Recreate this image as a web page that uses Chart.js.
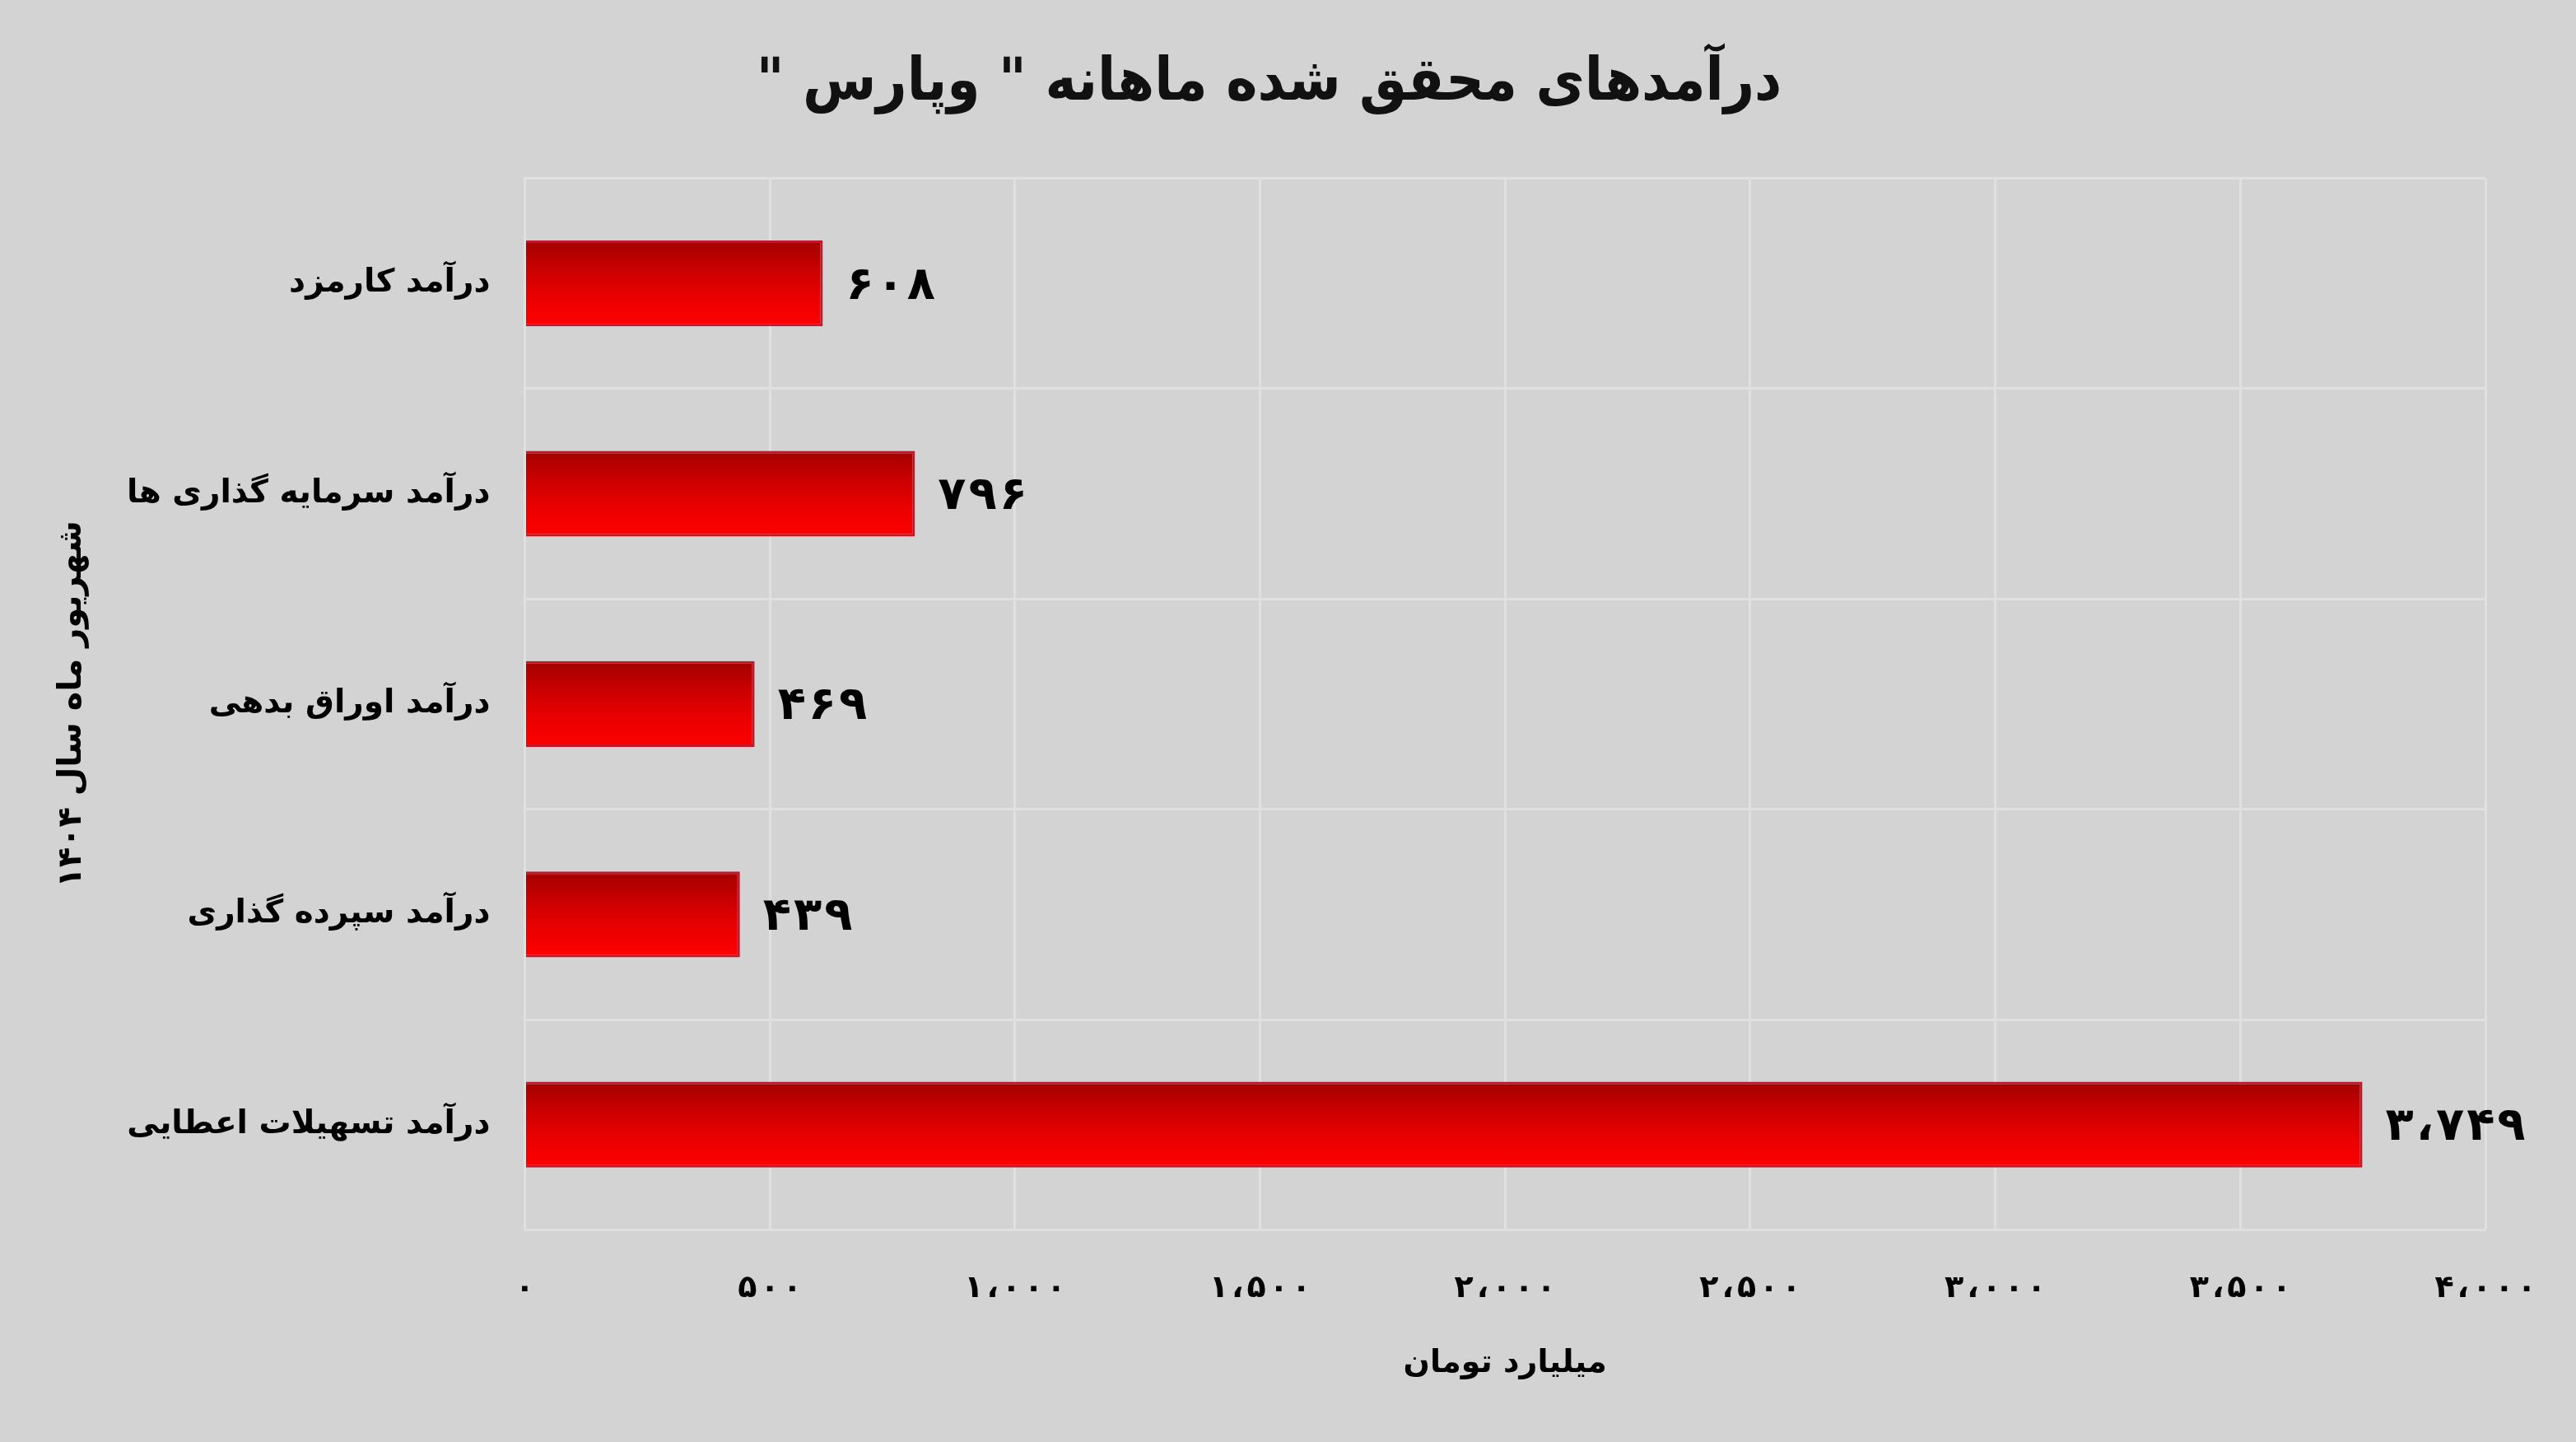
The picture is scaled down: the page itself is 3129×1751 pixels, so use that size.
<!DOCTYPE html>
<html lang="fa">
<head>
<meta charset="utf-8">
<title>درآمدهای محقق شده ماهانه وپارس</title>
<script src="https://cdn.jsdelivr.net/npm/chart.js@4.4.1/dist/chart.umd.min.js"></script>
<style>
  html, body { margin: 0; padding: 0; background: #d3d3d3; }
  #wrap { width: 3129px; height: 1751px; }
  canvas { direction: rtl; }
</style>
</head>
<body>
<div id="wrap"><canvas id="bar-chart-vpars" dir="rtl"></canvas></div>
<script>
// دسته ها و مقادیر (میلیارد تومان)
const categories = [
    "درآمد کارمزد",
    "درآمد سرمایه گذاری ها",
    "درآمد اوراق بدهی",
    "درآمد سپرده گذاری",
    "درآمد تسهیلات اعطایی"
];
const revenues = [608, 796, 469, 439, 3749];
const xTicks = [0, 500, 1000, 1500, 2000, 2500, 3000, 3500, 4000];

const titleText = 'درآمدهای محقق شده ماهانه " وپارس "';
const xTitle = "میلیارد تومان";
const yTitle = "شهریور ماه سال ۱۴۰۴";

const FONT = "'DejaVu Sans', sans-serif";
const TICK_FONT = "bold 38px " + FONT;
const TICK_PAD = 49;

// عدد به ارقام فارسی با جداکننده هزارگان
function toPersian(n) {
    const s = String(n).replace(/\B(?=(\d{3})+(?!\d))/g, "،");
    return s.replace(/\d/g, d => "۰۱۲۳۴۵۶۷۸۹"[d]);
}

// نوشتن عدد رقم به رقم با فاصله بین ارقام
function drawSpaced(ctx, text, x, y, gap, align) {
    const chars = Array.from(text);
    const widths = chars.map(c => ctx.measureText(c).width);
    const total = widths.reduce((a, w) => a + w, 0) + gap * (chars.length - 1);
    let cx = align === "center" ? x - total / 2 : x;
    ctx.textAlign = "left";
    chars.forEach((c, i) => {
        ctx.fillText(c, cx, y);
        cx += widths[i] + gap;
    });
}

// گرادیان عمودی هر میله بعد از مشخص شدن موقعیتها
const barGradient = {
    id: "barGradient",
    beforeDatasetsDraw(chart) {
        const ctx = chart.ctx;
        chart.getDatasetMeta(0).data.forEach(bar => {
            const top = bar.y - bar.height / 2;
            const bottom = bar.y + bar.height / 2;
            if (!isFinite(top) || !isFinite(bottom)) return;
            const g = ctx.createLinearGradient(0, top, 0, bottom);
            g.addColorStop(0, "#a30000");
            g.addColorStop(0.35, "#cc0000");
            g.addColorStop(0.65, "#ea0000");
            g.addColorStop(1, "#ff0000");
            bar.options.backgroundColor = g;
        });
    }
};

// نوشتن مقدار کنار هر میله
const valueLabels = {
    id: "valueLabels",
    afterDatasetsDraw(chart) {
        const ctx = chart.ctx;
        const meta = chart.getDatasetMeta(0);
        ctx.save();
        ctx.font = "bold 56px " + FONT;
        ctx.fillStyle = "#000";
        ctx.textBaseline = "middle";
        meta.data.forEach((bar, i) => {
            drawSpaced(ctx, toPersian(revenues[i]), bar.x + 28, bar.y + 4, 3, "left");
        });
        ctx.restore();
    }
};

// برچسبهای محور افقی با فاصله بین ارقام
const spacedTicks = {
    id: "spacedTicks",
    afterDraw(chart) {
        const scale = chart.scales.x;
        const ctx = chart.ctx;
        ctx.save();
        ctx.font = TICK_FONT;
        ctx.fillStyle = "#000";
        ctx.textBaseline = "middle";
        const y = scale.top + TICK_PAD + 38 * 1.2 / 2;
        scale.ticks.forEach(t => {
            drawSpaced(ctx, toPersian(t.value), scale.getPixelForValue(t.value), y, 4, "center");
        });
        ctx.restore();
    }
};

// پس زمینه خاکستری بوم
const canvasBg = {
    id: "canvasBg",
    beforeDraw(chart) {
        const ctx = chart.ctx;
        ctx.save();
        ctx.fillStyle = "#d3d3d3";
        ctx.fillRect(0, 0, chart.width, chart.height);
        ctx.restore();
    }
};

Chart.defaults.font.family = FONT;
Chart.defaults.color = "#000";

new Chart(document.getElementById("bar-chart-vpars").getContext("2d"), {
    type: "bar",
    data: {
        labels: categories,
        datasets: [{
            data: revenues,
            // تابعی تا هر میله تنظیمات جداگانه داشته باشد
            backgroundColor: () => "#e00000",
            borderColor: "#c0182a",
            borderWidth: 3,
            borderSkipped: "left",
            categoryPercentage: 0.8,
            barPercentage: 0.51
        }]
    },
    options: {
        indexAxis: "y",
        responsive: true,
        maintainAspectRatio: false,
        animation: false,
        layout: { padding: { top: 30, right: 110, left: 64, bottom: 72 } },
        plugins: {
            legend: { display: false },
            tooltip: { enabled: false },
            title: {
                display: true,
                text: titleText,
                font: { size: 72, weight: "bold", family: "'DejaVu Sans Condensed', 'DejaVu Sans', sans-serif" },
                color: "#111",
                padding: { top: 29, bottom: 71 }
            }
        },
        scales: {
            x: {
                min: 0,
                max: 4000,
                afterBuildTicks(scale) {
                    scale.ticks = xTicks.map(v => ({ value: v }));
                },
                grid: { color: "#e0e0e0", lineWidth: 3, drawTicks: false },
                border: { display: false },
                ticks: {
                    // جای برچسبها نگه داشته می شود، نوشتنشان با افزونه است
                    color: "rgba(0,0,0,0)",
                    padding: TICK_PAD,
                    font: { size: 38, weight: "bold" },
                    callback: v => toPersian(v)
                },
                title: {
                    display: true,
                    text: xTitle,
                    font: { size: 38, weight: "bold", lineHeight: 1.0 },
                    padding: { top: 0, bottom: 4 }
                }
            },
            y: {
                grid: { color: "#e0e0e0", lineWidth: 3, drawTicks: false, offset: true },
                border: { color: "#e0e0e0", width: 3 },
                ticks: {
                    padding: 42,
                    font: { size: 39, weight: "bold" }
                },
                title: {
                    display: true,
                    text: yTitle,
                    font: { size: 40, weight: "bold" },
                    padding: 0
                }
            }
        }
    },
    plugins: [canvasBg, spacedTicks, barGradient, valueLabels]
});
</script>
</body>
</html>
